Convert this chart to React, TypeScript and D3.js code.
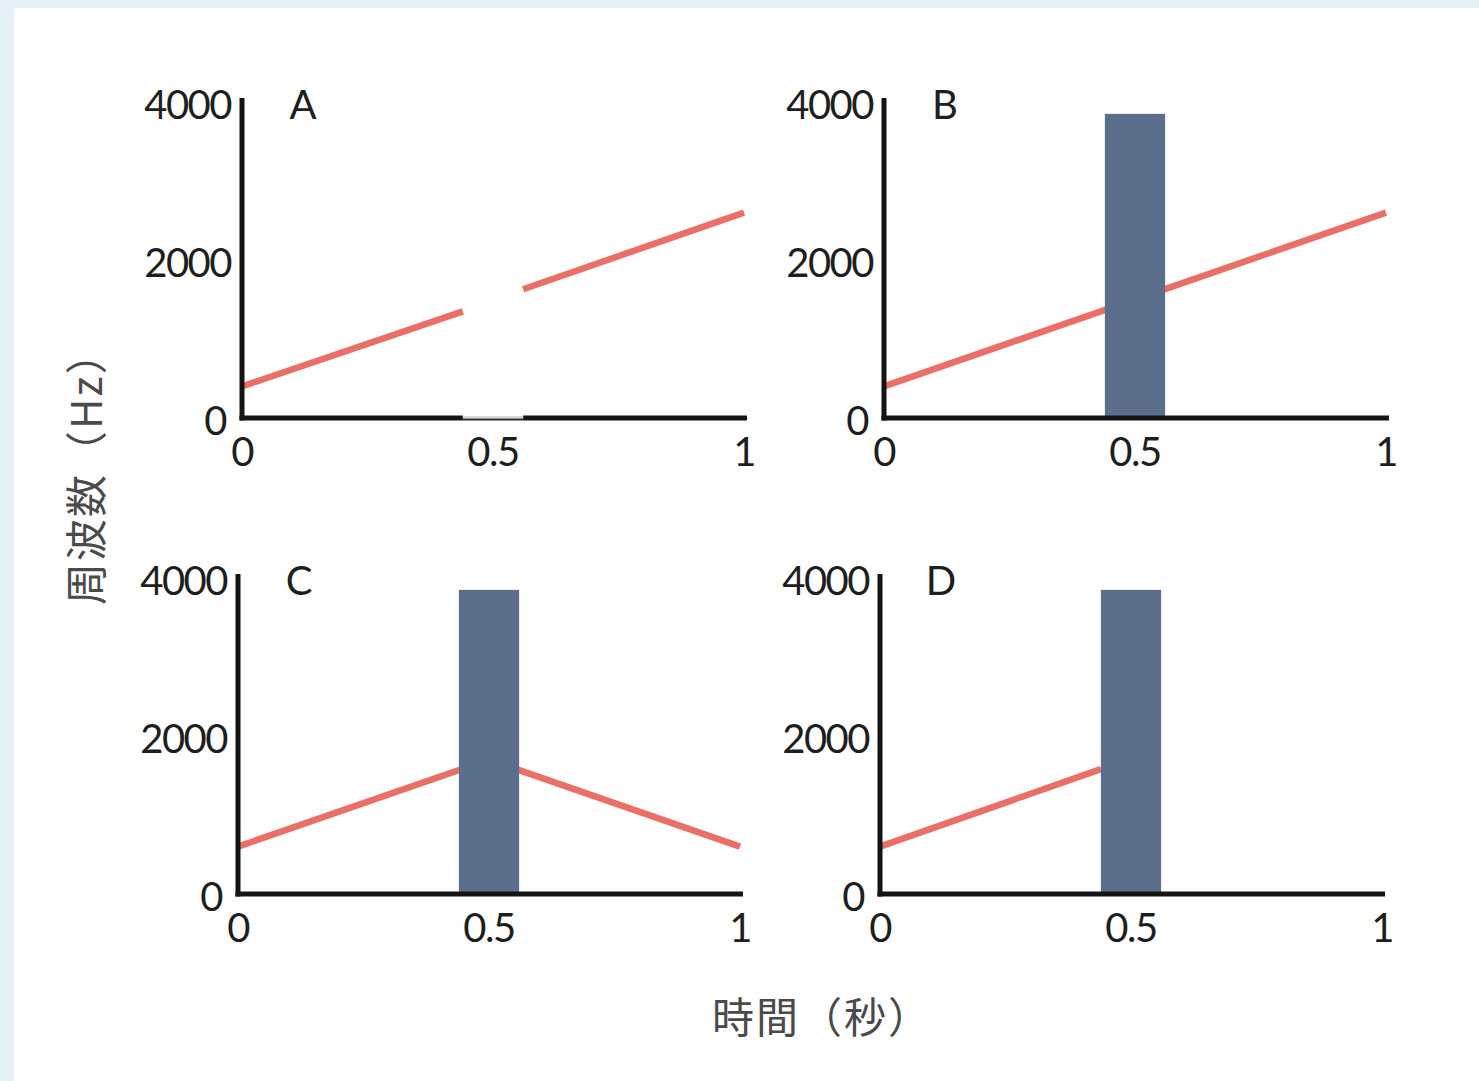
import React from "react";
import * as d3 from "d3";

// ---------- data ----------
const panelLabels = ["A", "B", "C", "D"];
const xTicks = [0, 0.5, 1];
const xTickLabels = ["0", "0.5", "1"];
const yTicks = [0, 2000, 4000];
const yTickLabels = ["0", "2000", "4000"];

// tone glides (time s, frequency Hz); each panel is a list of visible segments
const glideA = [
  [{ t: 0, f: 400 }, { t: 0.44, f: 1350 }],
  [{ t: 0.56, f: 1630 }, { t: 1, f: 2600 }],
];
const glideB = [[{ t: 0, f: 400 }, { t: 1, f: 2600 }]];
const glideC = [[{ t: 0, f: 600 }, { t: 0.5, f: 1700 }, { t: 1, f: 600 }]];
const glideD = [[{ t: 0, f: 600 }, { t: 0.44, f: 1580 }]];
const glides = [glideA, glideB, glideC, glideD];

// noise burst (time range, top frequency) per panel; null = silent gap
const noiseBursts = [
  null,
  { t0: 0.44, t1: 0.56, f: 3850 },
  { t0: 0.44, t1: 0.56, f: 3850 },
  { t0: 0.44, t1: 0.56, f: 3850 },
];
const silentGap = { t0: 0.44, t1: 0.56 };

const xTitle = "時間（秒）";
const yTitle = "周波数（Hz）";

// ---------- layout ----------
const W = 1479;
const H = 1081;
const origins = [
  { x: 242, y: 418 },
  { x: 884, y: 418 },
  { x: 238, y: 894 },
  { x: 880, y: 894 },
];
const plotW = 502;
const plotH = 316;
const RED = "#e96f67";
const BAR = "#5b6e8c";
const AXIS = "#141414";
const numFont = "Lato, 'Open Sans', sans-serif";
const cjkFont = "'Noto Sans CJK JP', 'Noto Sans CJK SC', sans-serif";

function Panel({ i }: { i: number }) {
  const o = origins[i];
  const x = d3.scaleLinear().domain([0, 1]).range([o.x, o.x + plotW]);
  const y = d3.scaleLinear().domain([0, 4000]).range([o.y, o.y - plotH]);
  const line = d3
    .line<{ t: number; f: number }>()
    .x((d) => x(d.t))
    .y((d) => y(d.f));
  const bar = noiseBursts[i];
  const fs = 40;
  return (
    <g>
      {glides[i].map((seg, k) => (
        <path key={k} d={line(seg) || ""} fill="none" stroke={RED} strokeWidth={6.5} />
      ))}
      {bar && (
        <rect
          x={x(bar.t0)}
          y={y(bar.f)}
          width={x(bar.t1) - x(bar.t0)}
          height={y(0) - y(bar.f)}
          fill={BAR}
        />
      )}
      {/* y axis */}
      <line x1={o.x} x2={o.x} y1={y(4000) - 4} y2={o.y + 2.5} stroke={AXIS} strokeWidth={5} />
      {/* x axis */}
      {i === 0 ? (
        <g>
          <line x1={o.x - 2.5} x2={x(silentGap.t0)} y1={o.y} y2={o.y} stroke={AXIS} strokeWidth={5} />
          <line x1={x(silentGap.t1)} x2={x(1) + 3} y1={o.y} y2={o.y} stroke={AXIS} strokeWidth={5} />
          <line x1={x(silentGap.t0)} x2={x(silentGap.t1)} y1={o.y - 1} y2={o.y - 1} stroke="#d8d8d8" strokeWidth={2} />
          <line x1={x(silentGap.t0)} x2={x(silentGap.t1)} y1={o.y + 1.5} y2={o.y + 1.5} stroke="#2a2a2a" strokeWidth={2} />
        </g>
      ) : (
        <line x1={o.x - 2.5} x2={x(1) + 3} y1={o.y} y2={o.y} stroke={AXIS} strokeWidth={5} />
      )}
      {/* y tick labels */}
      {yTicks.map((v, k) => (
        <text
          key={"y" + k}
          x={v === 0 ? o.x - 16 : o.x - 11}
          y={y(v) + 2}
          textAnchor="end"
          dominantBaseline="central"
          fontFamily={numFont}
          fontSize={fs}
          letterSpacing={-1.5}
          fill="#1e1e1e"
        >
          {yTickLabels[k]}
        </text>
      ))}
      {/* x tick labels */}
      {xTicks.map((v, k) => (
        <text
          key={"x" + k}
          x={x(v)}
          y={o.y + 33}
          textAnchor="middle"
          dominantBaseline="central"
          fontFamily={numFont}
          fontSize={fs}
          letterSpacing={-1.5}
          fill="#1e1e1e"
        >
          {xTickLabels[k]}
        </text>
      ))}
      <text
        x={o.x + 61}
        y={y(4000) + 2}
        textAnchor="middle"
        dominantBaseline="central"
        fontFamily={numFont}
        fontSize={fs}
        fill="#1e1e1e"
      >
        {panelLabels[i]}
      </text>
    </g>
  );
}

export default function App() {
  return (
    <svg
      width={W}
      height={H}
      style={{ position: "absolute", left: 0, top: 0, display: "block" }}
    >
      <rect x={0} y={0} width={W} height={H} fill="#e3f0f7" />
      <rect x={14} y={8} width={W - 14} height={H - 8} fill="#ffffff" />
      {panelLabels.map((_, i) => (
        <Panel key={i} i={i} />
      ))}
      <text
        x={712}
        y={1014}
        textAnchor="start"
        dominantBaseline="central"
        fontFamily={cjkFont}
        fontSize={42}
        letterSpacing={2}
        fill="#4a4a4a"
      >
        {xTitle}
      </text>
      <text
        transform="translate(83,605) rotate(-90)"
        textAnchor="start"
        dominantBaseline="central"
        fontFamily={cjkFont}
        fontSize={42}
        letterSpacing={2}
        fill="#4a4a4a"
      >
        {yTitle}
      </text>
    </svg>
  );
}
